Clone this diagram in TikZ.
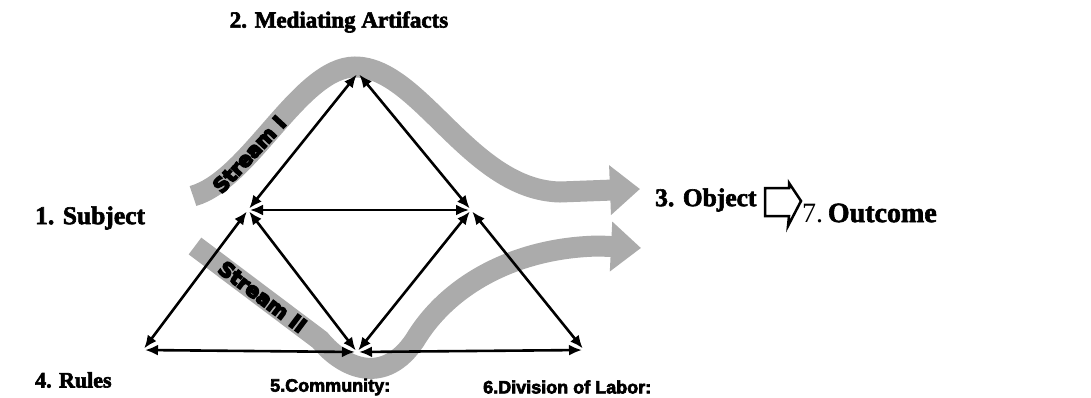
\documentclass[tikz,border=0pt]{standalone}
\usepackage{fontspec}
\setmainfont{Liberation Serif}
\newfontfamily\labelsans{Liberation Sans}
\newfontfamily\streamfont{DejaVu Sans Bold}
\usetikzlibrary{arrows.meta}
% heavy lettering: glyphs filled and stroked
\newcommand\heavytext[1]{%
  \special{pdf:literal direct 2 Tr 1.6 w 0 G}#1\special{pdf:literal direct 0 Tr}}
\newcommand\thicktext[1]{%
  \special{pdf:literal direct 2 Tr 0.6 w 0 G}#1\special{pdf:literal direct 0 Tr}}
\begin{document}
\begin{tikzpicture}[x=1pt,y=-1pt,
  link/.style={line width=2.6pt,
    {Latex[length=13pt,width=11pt]}-{Latex[length=13pt,width=11pt]},
    shorten <=2pt, shorten >=2pt},
  band/.style={line width=21pt, draw=black!33,
    -{Triangle[length=30pt,width=48pt]}},
  serlabel/.style={font=\fontsize{23}{26}\selectfont\bfseries, inner sep=0pt},
  sanslabel/.style={font=\labelsans\fontsize{18}{21}\selectfont\bfseries, inner sep=0pt},
  streamtext/.style={font=\streamfont\fontsize{20}{22}\selectfont, inner sep=0pt, text=black}]
\useasboundingbox (0,0) rectangle (1091,397);

% the two streams behind the activity triangles
\draw[band] (193,196) .. controls (250,180) and (300,67) ..
  node[streamtext, sloped, pos=0.34] (s1) {\heavytext{Stream I}} (355,67)
  .. controls (420,67) and (470,190) .. (560,192) -- (640,189);
\draw[band] (195,246) -- node[streamtext, sloped, pos=0.54] (s2) {\heavytext{Stream II}} (320,340)
  .. controls (345,370) and (385,385) .. (415,340)
  .. controls (450,282) and (520,247) .. (600,246) -- (641,248);

% vertices of the activity system
\coordinate (A)  at (358,73);
\coordinate (L)  at (248,210);
\coordinate (R)  at (471,210);
\coordinate (BL) at (143,350);
\coordinate (BM) at (357,352);
\coordinate (BR) at (584,350);

\draw[link] (A) -- (L);
\draw[link] (A) -- (R);
\draw[link] (L) -- (R);
\draw[link] (L) -- (BL);
\draw[link] (L) -- (BM);
\draw[link] (R) -- (BM);
\draw[link] (R) -- (BR);
\draw[link] (BL) -- (BM);
\draw[link] (BM) -- (BR);

% labels
\node[serlabel] (med) at (339,22) {\thicktext{2. Mediating Artifacts}};
\node[serlabel, anchor=west, font=\fontsize{25.5}{28}\selectfont\bfseries] (subj) at (35,218) {\thicktext{1. Subject}};
\node[serlabel, anchor=west, font=\fontsize{25.5}{28}\selectfont\bfseries] (obj) at (655,200) {\thicktext{3. Object}};
\node[serlabel, anchor=west, font=\fontsize{22}{26}\selectfont\bfseries] (rules) at (35,380) {\thicktext{4. Rules}};
\node[sanslabel, anchor=west] (comm) at (270,387) {\thicktext{5.Community:}};
\node[sanslabel, anchor=west] (div) at (483,387) {\thicktext{6.Division of Labor:}};
\node[anchor=west, inner sep=0pt, font=\fontsize{28}{32}\selectfont] (out) at (802,213)
  {7.\,\textbf{\thicktext{Outcome}}};

% hollow outcome arrow
\draw[line width=2.5pt, line join=miter]
  (765,188) -- (789,188) -- (789,183) -- (801,201) -- (788,226)
  -- (789,216) -- (765,216) -- cycle;
\end{tikzpicture}
\end{document}
